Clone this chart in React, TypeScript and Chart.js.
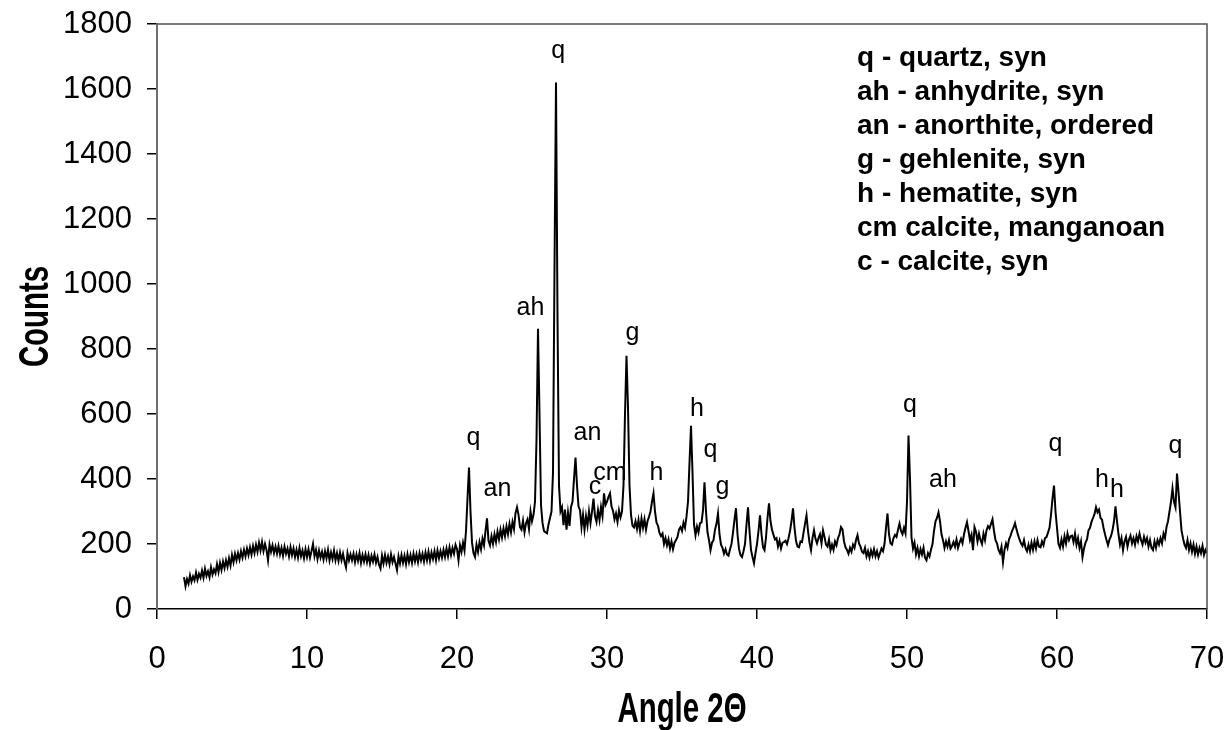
import React, { useEffect, useRef } from "react";
import { Chart, registerables } from "chart.js";

Chart.register(...registerables);

// Scan step (degrees 2θ) and the first angle of each block of counts
const ANGLE_STEP = 0.1;
const blockStartAngles = [1.8, 10, 20, 30, 40, 50, 60];

// Measured intensity (counts), one value every 0.1° 2θ
const counts1_8to9_9 = [
  98, 70,
  92, 78, 104, 84, 100, 88, 112, 90, 108, 96,
  118, 96, 124, 102, 116, 98, 128, 106, 122, 110,
  138, 114, 142, 120, 146, 126, 150, 130, 156, 134,
  166, 144, 170, 150, 172, 152, 178, 158, 182, 162,
  186, 166, 190, 168, 194, 172, 198, 176, 204, 180,
  206, 178, 200, 182, 150, 198, 176, 196, 172, 192,
  170, 194, 168, 188, 164, 192, 170, 186, 162, 190,
  166, 186, 160, 182, 158, 188, 162, 180, 156, 184,
];
const counts10to19_9 = [
  160, 184, 158, 178, 200, 162, 182, 154, 180, 158,
  176, 152, 178, 156, 182, 150, 174, 154, 180, 150,
  172, 148, 174, 150, 170, 146, 128, 172, 150, 168,
  150, 170, 144, 168, 148, 172, 142, 166, 146, 168,
  144, 166, 140, 164, 146, 168, 142, 160, 136, 124,
  164, 140, 166, 142, 162, 138, 168, 144, 160, 140,
  120, 162, 140, 166, 142, 164, 138, 168, 144, 166,
  142, 170, 146, 168, 144, 172, 150, 170, 146, 174,
  150, 176, 148, 174, 154, 178, 150, 180, 156, 178,
  158, 182, 160, 186, 162, 190, 166, 188, 170, 198,
];
const counts20to29_9 = [
  185, 150, 196, 176, 204, 180, 240, 340, 435, 300,
  205, 172, 160, 198, 176, 206, 184, 216, 196, 240,
  279, 210, 196, 224, 200, 230, 206, 238, 214, 244,
  220, 248, 224, 254, 230, 262, 236, 268, 246, 295,
  313, 290, 252, 244, 272, 236, 264, 276, 246, 300,
  270, 290, 330, 520, 862, 600, 320, 265, 240, 236,
  233, 260, 280, 300, 420, 1050, 1620, 900, 380, 300,
  313, 258, 306, 244, 296, 256, 314, 330, 400, 466,
  380, 316, 304, 252, 290, 244, 286, 256, 300, 264,
  300, 340, 286, 268, 304, 274, 314, 286, 356, 320,
];
const counts30to39_9 = [
  330, 345, 356, 316, 302, 276, 294, 268, 304, 282,
  300, 380, 600, 779, 620, 380, 290, 256, 251, 270,
  246, 274, 240, 278, 250, 276, 244, 270, 284, 300,
  330, 356, 300, 266, 256, 234, 224, 232, 200, 218,
  196, 214, 186, 208, 184, 204, 212, 222, 244, 252,
  240, 266, 250, 284, 330, 450, 564, 420, 260, 227,
  254, 236, 264, 266, 304, 390, 300, 236, 212, 181,
  204, 212, 244, 262, 294, 230, 198, 188, 170, 184,
  168, 164, 184, 200, 235, 275, 310, 230, 185, 166,
  160, 178, 200, 260, 313, 240, 182, 160, 141, 172,
];
const counts40to49_9 = [
  200, 240, 288, 230, 190, 181, 220, 280, 325, 270,
  244, 228, 214, 218, 192, 210, 186, 204, 206, 210,
  200, 218, 240, 270, 310, 250, 210, 192, 190, 208,
  206, 234, 262, 288, 240, 204, 181, 218, 242, 216,
  202, 218, 230, 202, 242, 222, 198, 192, 214, 181,
  198, 182, 208, 196, 218, 230, 252, 245, 208, 190,
  182, 170, 188, 176, 198, 188, 212, 227, 202, 192,
  176, 172, 188, 162, 178, 158, 180, 164, 184, 162,
  178, 158, 172, 186, 178, 200, 250, 294, 230, 202,
  198, 218, 228, 222, 244, 263, 240, 230, 250, 233,
];
const counts50to59_9 = [
  330, 534, 400, 220, 186, 204, 168, 188, 162, 184,
  168, 188, 158, 150, 172, 162, 182, 200, 240, 270,
  280, 297, 270, 230, 212, 188, 208, 192, 212, 186,
  194, 206, 192, 214, 188, 204, 216, 202, 230, 250,
  267, 240, 212, 228, 181, 252, 238, 208, 232, 212,
  200, 232, 212, 242, 255, 248, 262, 276, 240, 212,
  202, 182, 172, 192, 144, 182, 202, 188, 214, 225,
  240, 250, 264, 245, 228, 214, 202, 194, 212, 188,
  178, 198, 178, 204, 182, 208, 186, 212, 192, 190,
  208, 196, 218, 221, 235, 250, 290, 340, 380, 300,
];
const counts60to70 = [
  250, 200, 188, 214, 192, 224, 202, 232, 212, 224,
  226, 206, 232, 198, 218, 188, 208, 160, 186, 204,
  214, 242, 250, 268, 280, 292, 313, 298, 306, 280,
  275, 250, 230, 212, 196, 214, 224, 242, 270, 316,
  270, 230, 198, 218, 181, 208, 222, 192, 214, 226,
  202, 218, 198, 224, 208, 232, 212, 198, 222, 204,
  218, 192, 212, 188, 181, 208, 188, 212, 198, 218,
  202, 232, 218, 252, 270, 300, 330, 371, 330, 313,
  417, 360, 300, 242, 218, 198, 188, 212, 182, 202,
  176, 198, 170, 192, 168, 188, 172, 194, 166, 182,
  172,
];
const countBlocks = [
  counts1_8to9_9, counts10to19_9, counts20to29_9, counts30to39_9,
  counts40to49_9, counts50to59_9, counts60to70,
];

// Phase labels written above the diffraction peaks (angle, counts at the label centre)
const peakLabelTexts = ["q", "an", "ah", "q", "an", "c", "cm", "g", "h", "h", "q", "g", "q", "ah", "q", "h", "h", "q"];
const peakLabelAngles = [21.1, 22.7, 24.9, 26.75, 28.7, 29.2, 30.2, 31.7, 33.3, 36.0, 36.9, 37.7, 50.2, 52.4, 59.9, 63.0, 64.0, 67.9];
const peakLabelCounts = [525, 370, 926, 1718, 540, 375, 417, 850, 417, 616, 490, 375, 626, 396, 506, 396, 365, 500];

// Key to the phase abbreviations
const phaseKey = [
  "q - quartz, syn",
  "ah - anhydrite, syn",
  "an - anorthite, ordered",
  "g - gehlenite, syn",
  "h - hematite, syn",
  "cm calcite, manganoan",
  "c - calcite, syn",
];

const xAxisTitle = "Angle 2Θ";
const yAxisTitle = "Counts";

const X_MIN = 0;
const X_MAX = 70;
const X_STEP = 10;
const Y_MIN = 0;
const Y_MAX = 1800;
const Y_STEP = 200;

function buildPoints() {
  const pts: { x: number; y: number }[] = [];
  countBlocks.forEach((block, b) => {
    block.forEach((c, i) => {
      const angle = Math.round((blockStartAngles[b] + i * ANGLE_STEP) * 10) / 10;
      pts.push({ x: angle, y: c });
    });
  });
  return pts;
}

const FONT = '"Liberation Sans", Arial, Helvetica, sans-serif';

// Draws condensed bold text (narrow face) centred at (x, y), optionally rotated
function drawCondensed(ctx: CanvasRenderingContext2D, text: string, x: number, y: number, rotate: boolean) {
  ctx.save();
  ctx.translate(x, y);
  if (rotate) ctx.rotate(-Math.PI / 2);
  ctx.scale(0.7, 1);
  ctx.font = `bold 42px ${FONT}`;
  ctx.textAlign = "center";
  ctx.textBaseline = "middle";
  ctx.fillStyle = "#000";
  ctx.fillText(text, 0, 0);
  ctx.restore();
}

const overlayPlugin = {
  id: "xrdOverlay",
  afterDatasetsDraw(chart: any) {
    const { ctx, chartArea, scales } = chart;
    const xs = scales.x;
    const ys = scales.y;
    ctx.save();
    // plot frame: top and right edges
    ctx.strokeStyle = "#505050";
    ctx.lineWidth = 1.5;
    ctx.beginPath();
    ctx.moveTo(chartArea.left, chartArea.top);
    ctx.lineTo(chartArea.right, chartArea.top);
    ctx.lineTo(chartArea.right, chartArea.bottom);
    ctx.stroke();

    // peak labels
    ctx.fillStyle = "#000";
    ctx.font = `25px ${FONT}`;
    ctx.textAlign = "center";
    ctx.textBaseline = "middle";
    peakLabelTexts.forEach((t, i) => {
      ctx.fillText(t, xs.getPixelForValue(peakLabelAngles[i]), ys.getPixelForValue(peakLabelCounts[i]));
    });

    // phase key
    ctx.font = `bold 28px ${FONT}`;
    ctx.textAlign = "left";
    const keyX = xs.getPixelForValue(46.67);
    const keyY = ys.getPixelForValue(1695);
    phaseKey.forEach((t, i) => {
      ctx.fillText(t, keyX, keyY + i * 34);
    });
    ctx.restore();

    // axis titles
    drawCondensed(ctx, xAxisTitle, (chartArea.left + chartArea.right) / 2, chartArea.bottom + 101, false);
    drawCondensed(ctx, yAxisTitle, 36, (chartArea.top + chartArea.bottom) / 2, true);
  },
};

export default function App() {
  const canvasRef = useRef<HTMLCanvasElement | null>(null);

  useEffect(() => {
    const canvas = canvasRef.current;
    if (!canvas) return;
    const chart = new Chart(canvas, {
      type: "line",
      data: {
        datasets: [
          {
            data: buildPoints(),
            borderColor: "#000",
            borderWidth: 2,
            pointRadius: 0,
            tension: 0,
            fill: false,
          },
        ],
      },
      options: {
        responsive: false,
        animation: false,
        parsing: false,
        normalized: true,
        layout: { padding: { left: 0, right: 21, top: 24, bottom: 0 } },
        plugins: { legend: { display: false }, tooltip: { enabled: false } },
        scales: {
          x: {
            type: "linear",
            min: X_MIN,
            max: X_MAX,
            ticks: {
              stepSize: X_STEP,
              color: "#000",
              font: { family: FONT, size: 31 },
              padding: 22,
              maxRotation: 0,
              callback: (v: any) => String(v),
            },
            grid: { drawOnChartArea: false, tickLength: 10, color: "#000", lineWidth: 1.5 },
            border: { color: "#000", width: 1.5 },
            afterFit: (s: any) => {
              s.height = 121;
              s.paddingLeft = 0;
              s.paddingRight = 0;
            },
          },
          y: {
            min: Y_MIN,
            max: Y_MAX,
            ticks: {
              stepSize: Y_STEP,
              color: "#000",
              font: { family: FONT, size: 31 },
              padding: 15,
              callback: (v: any) => String(v),
            },
            grid: { drawOnChartArea: false, tickLength: 10, color: "#000", lineWidth: 1.5 },
            border: { color: "#707070", width: 2 },
            afterFit: (s: any) => {
              s.width = 157;
              s.paddingTop = 0;
              s.paddingBottom = 0;
            },
          },
        },
      },
      plugins: [overlayPlugin],
    });
    return () => chart.destroy();
  }, []);

  return (
    <div style={{ position: "fixed", left: 0, top: 0, width: 1228, height: 730, background: "#fff" }}>
      <canvas ref={canvasRef} width={1228} height={730} style={{ width: 1228, height: 730, display: "block" }} />
    </div>
  );
}
